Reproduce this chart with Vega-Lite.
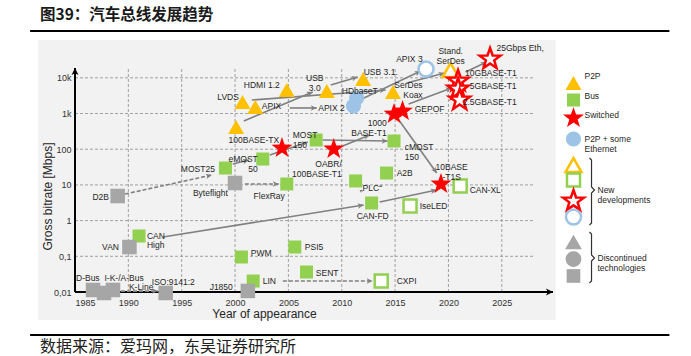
{
  "$schema": "https://vega.github.io/schema/vega-lite/v6.json",
  "width": 478,
  "height": 224,
  "autosize": {"type": "none"},
  "padding": {"left": 75, "top": 68, "right": 138, "bottom": 64},
  "background": "white",
  "config": {
    "view": {"stroke": null},
    "text": {"font": "Liberation Sans Narrow, Liberation Sans, sans-serif", "fontSize": 8.5, "color": "#262626"}
  },
  "datasets": {
    "panel": [{"year": 1981.54, "year2": 2030.04, "mbps": 114600, "mbps2": 0.00164}],
    "gridYears": [{"year": 1990}, {"year": 1995}, {"year": 2000}, {"year": 2005}, {"year": 2010}, {"year": 2015}, {"year": 2020}, {"year": 2025}],
    "gridLevels": [{"mbps": 0.1}, {"mbps": 1}, {"mbps": 10}, {"mbps": 100}, {"mbps": 1000}, {"mbps": 10000}],
    "axisLines": [
      {"year": 1985, "mbps": 0.01, "year2": 2029.8, "mbps2": 0.01},
      {"year": 1985, "mbps": 0.01, "year2": 1985, "mbps2": 18840}
    ],
    "links": [
      {"year": 2000.82, "mbps": 617, "year2": 2007.28, "mbps2": 4000},
      {"year": 2001.57, "mbps": 2390, "year2": 2014.12, "mbps2": 4550},
      {"year": 2005.13, "mbps": 1430, "year2": 2007.66, "mbps2": 1430},
      {"year": 2008.97, "mbps": 6280, "year2": 2011.5, "mbps2": 10520},
      {"year": 2011.69, "mbps": 2390, "year2": 2017.4, "mbps2": 15490},
      {"year": 2016.09, "mbps": 7140, "year2": 2019.64, "mbps2": 13610},
      {"year": 2016.27, "mbps": 1845, "year2": 2020.3, "mbps2": 5180},
      {"year": 2015.15, "mbps": 798, "year2": 2018.9, "mbps2": 21.5},
      {"year": 2021.61, "mbps": 14520, "year2": 2023.58, "mbps2": 27700},
      {"year": 2003.26, "mbps": 68.9, "year2": 2006.82, "mbps2": 159},
      {"year": 2008.22, "mbps": 181, "year2": 2014.31, "mbps2": 170},
      {"year": 2010.09, "mbps": 123, "year2": 2012.62, "mbps2": 250},
      {"year": 1993.24, "mbps": 0.348, "year2": 2012.06, "mbps2": 2.74},
      {"year": 2013.56, "mbps": 3.32, "year2": 2018.9, "mbps2": 7.19},
      {"year": 1999.79, "mbps": 38.5, "year2": 2001.29, "mbps2": 49.8}
    ],
    "dashedLinks": [
      {"year": 1989.68, "mbps": 5.56, "year2": 1997.83, "mbps2": 18.9},
      {"year": 2000.92, "mbps": 10.6, "year2": 2004.1, "mbps2": 10.6},
      {"year": 2004.48, "mbps": 0.0203, "year2": 2012.9, "mbps2": 0.0203},
      {"year": 1989.31, "mbps": 0.0106, "year2": 1992.77, "mbps2": 0.0106}
    ],
    "tech": [
      {"name": "LVDS", "year": 2000.7, "mbps": 2100, "topology": "P2P", "status": "current"},
      {"name": "APIX", "year": 2001.9, "mbps": 1520, "topology": "P2P", "status": "current"},
      {"name": "100BASE-TX (P2P)", "year": 2000.1, "mbps": 419, "topology": "P2P", "status": "current"},
      {"name": "HDMI 1.2", "year": 2004.85, "mbps": 4550, "topology": "P2P", "status": "current"},
      {"name": "USB 3.0", "year": 2008.6, "mbps": 4270, "topology": "P2P", "status": "current"},
      {"name": "USB 3.1", "year": 2012.0, "mbps": 9250, "topology": "P2P", "status": "current"},
      {"name": "SerDes Koax", "year": 2014.8, "mbps": 4000, "topology": "P2P", "status": "current"},
      {"name": "Stand. SerDes", "year": 2020.2, "mbps": 16500, "topology": "P2P", "status": "new"},
      {"name": "HDbaseT", "year": 2011.4, "mbps": 2720, "topology": "P2P + some Ethernet", "status": "current"},
      {"name": "APIX 2", "year": 2011.1, "mbps": 1620, "topology": "P2P + some Ethernet", "status": "current"},
      {"name": "APIX 3", "year": 2017.9, "mbps": 17600, "topology": "P2P + some Ethernet", "status": "new"},
      {"name": "100BASE-TX", "year": 2004.4, "mbps": 115, "topology": "Switched", "status": "current"},
      {"name": "OABR/100BASE-T1", "year": 2009.25, "mbps": 108, "topology": "Switched", "status": "current"},
      {"name": "1000BASE-T1", "year": 2014.9, "mbps": 1030, "topology": "Switched", "status": "current"},
      {"name": "GEPOF", "year": 2015.7, "mbps": 1250, "topology": "Switched", "status": "current"},
      {"name": "10BASE-T1S", "year": 2019.3, "mbps": 11.3, "topology": "Switched", "status": "current"},
      {"name": "10GBASE-T1", "year": 2020.9, "mbps": 8670, "topology": "Switched", "status": "new"},
      {"name": "5GBASE-T1", "year": 2020.9, "mbps": 5180, "topology": "Switched", "status": "new"},
      {"name": "2.5GBASE-T1", "year": 2021.05, "mbps": 2550, "topology": "Switched", "status": "new"},
      {"name": "25Gbps Eth", "year": 2023.9, "mbps": 35900, "topology": "Switched", "status": "new"},
      {"name": "MOST25", "year": 1999.1, "mbps": 29.7, "topology": "Bus", "status": "current"},
      {"name": "eMOST 50", "year": 2002.6, "mbps": 53.1, "topology": "Bus", "status": "current"},
      {"name": "MOST 150", "year": 2007.6, "mbps": 181, "topology": "Bus", "status": "current"},
      {"name": "cMOST 150", "year": 2014.9, "mbps": 170, "topology": "Bus", "status": "current"},
      {"name": "FlexRay", "year": 2004.85, "mbps": 10.6, "topology": "Bus", "status": "current"},
      {"name": "PLC", "year": 2011.3, "mbps": 12.9, "topology": "Bus", "status": "current"},
      {"name": "A2B", "year": 2014.2, "mbps": 21.5, "topology": "Bus", "status": "current"},
      {"name": "CAN-FD", "year": 2012.8, "mbps": 3.11, "topology": "Bus", "status": "current"},
      {"name": "CAN High", "year": 1991.0, "mbps": 0.371, "topology": "Bus", "status": "current"},
      {"name": "PWM", "year": 2000.6, "mbps": 0.0955, "topology": "Bus", "status": "current"},
      {"name": "PSI5", "year": 2005.6, "mbps": 0.182, "topology": "Bus", "status": "current"},
      {"name": "SENT", "year": 2006.7, "mbps": 0.0363, "topology": "Bus", "status": "current"},
      {"name": "LIN", "year": 2001.7, "mbps": 0.0203, "topology": "Bus", "status": "current"},
      {"name": "IseLED", "year": 2016.4, "mbps": 2.56, "topology": "Bus", "status": "new"},
      {"name": "CAN-XL", "year": 2021.1, "mbps": 9.31, "topology": "Bus", "status": "new"},
      {"name": "CXPI", "year": 2013.7, "mbps": 0.0203, "topology": "Bus", "status": "new"},
      {"name": "Byteflight", "year": 2000.0, "mbps": 11.3, "topology": "Bus", "status": "discontinued"},
      {"name": "D2B", "year": 1989.0, "mbps": 4.89, "topology": "Bus", "status": "discontinued"},
      {"name": "VAN", "year": 1990.1, "mbps": 0.182, "topology": "Bus", "status": "discontinued"},
      {"name": "D-Bus", "year": 1986.69, "mbps": 0.0114, "topology": "Bus", "status": "discontinued"},
      {"name": "K-Line", "year": 1987.72, "mbps": 0.00938, "topology": "Bus", "status": "discontinued"},
      {"name": "I-K-/A-Bus", "year": 1988.56, "mbps": 0.0114, "topology": "Bus", "status": "discontinued"},
      {"name": "ISO 9141:2", "year": 1993.5, "mbps": 0.00938, "topology": "Bus", "status": "discontinued"},
      {"name": "J1850", "year": 2001.2, "mbps": 0.0107, "topology": "Bus", "status": "discontinued"}
    ],
    "legendItems": [
      {"year": 2031.72, "mbps": 7140, "topology": "P2P", "status": "current"},
      {"year": 2031.72, "mbps": 2390, "topology": "Bus", "status": "current"},
      {"year": 2031.72, "mbps": 798, "topology": "Switched", "status": "current"},
      {"year": 2031.72, "mbps": 193, "topology": "P2P + some Ethernet", "status": "current"},
      {"year": 2031.72, "mbps": 36.1, "topology": "P2P", "status": "new"},
      {"year": 2031.72, "mbps": 13.7, "topology": "Bus", "status": "new"},
      {"year": 2031.72, "mbps": 3.78, "topology": "Switched", "status": "new"},
      {"year": 2031.72, "mbps": 1.26, "topology": "P2P + some Ethernet", "status": "new"},
      {"year": 2031.72, "mbps": 0.252, "topology": "P2P", "status": "discontinued"},
      {"year": 2031.72, "mbps": 0.0839, "topology": "P2P + some Ethernet", "status": "discontinued"},
      {"year": 2031.72, "mbps": 0.0281, "topology": "Bus", "status": "discontinued"}
    ],
    "labels": [
      {"text": "LVDS", "year": 2000.36, "mbps": 2900, "anchor": "end"},
      {"text": "HDMI 1.2", "year": 2004.19, "mbps": 6280, "anchor": "end"},
      {"text": "APIX", "year": 2002.51, "mbps": 1620, "anchor": "start"},
      {"text": "100BASE-TX", "year": 2001.76, "mbps": 181, "anchor": "middle"},
      {"text": ["USB", "3.0"], "year": 2007.47, "mbps": 9860, "anchor": "middle"},
      {"text": "USB 3.1.", "year": 2012.06, "mbps": 14520, "anchor": "start"},
      {"text": "HDbaseT", "year": 2011.69, "mbps": 4270, "anchor": "middle"},
      {"text": "APIX 2", "year": 2010.28, "mbps": 1430, "anchor": "end"},
      {"text": "APIX 3", "year": 2017.58, "mbps": 33650, "anchor": "end"},
      {"text": ["SerDes", "Koax"], "year": 2017.58, "mbps": 6280, "anchor": "end"},
      {"text": ["Stand.", "SerDes"], "year": 2020.21, "mbps": 56400, "anchor": "middle"},
      {"text": "GEPOF", "year": 2016.84, "mbps": 1340, "anchor": "start"},
      {"text": ["1000", "BASE-T1"], "year": 2014.21, "mbps": 542, "anchor": "end"},
      {"text": "10GBASE-T1", "year": 2026.39, "mbps": 13610, "anchor": "end"},
      {"text": "5GBASE-T1", "year": 2026.39, "mbps": 5890, "anchor": "end"},
      {"text": "2.5GBASE-T1", "year": 2026.39, "mbps": 2100, "anchor": "end"},
      {"text": "25Gbps Eth,", "year": 2024.51, "mbps": 68400, "anchor": "start"},
      {"text": ["MOST", "150"], "year": 2005.41, "mbps": 250, "anchor": "start"},
      {"text": ["eMOST", "50"], "year": 2002.13, "mbps": 53.1, "anchor": "end"},
      {"text": ["OABR/", "100BASE-T1"], "year": 2010.0, "mbps": 38.5, "anchor": "end"},
      {"text": ["cMOST", "150"], "year": 2015.9, "mbps": 115, "anchor": "start"},
      {"text": "MOST25", "year": 1998.11, "mbps": 27.9, "anchor": "end"},
      {"text": "Byteflight", "year": 1999.33, "mbps": 5.93, "anchor": "end"},
      {"text": "D2B", "year": 1988.18, "mbps": 4.58, "anchor": "end"},
      {"text": "FlexRay", "year": 2004.66, "mbps": 4.89, "anchor": "end"},
      {"text": "„PLC“", "year": 2011.69, "mbps": 8.18, "anchor": "start"},
      {"text": "A2B", "year": 2015.15, "mbps": 21.5, "anchor": "start"},
      {"text": "CAN-FD", "year": 2012.9, "mbps": 1.35, "anchor": "middle"},
      {"text": "IseLED", "year": 2017.3, "mbps": 2.56, "anchor": "start"},
      {"text": ["10BASE", "-T1S"], "year": 2020.3, "mbps": 31.7, "anchor": "middle"},
      {"text": "CAN-XL", "year": 2021.99, "mbps": 7.19, "anchor": "start"},
      {"text": ["CAN", "High"], "year": 1991.74, "mbps": 0.371, "anchor": "start"},
      {"text": "VAN", "year": 1989.12, "mbps": 0.182, "anchor": "end"},
      {"text": "PWM", "year": 2001.48, "mbps": 0.124, "anchor": "start"},
      {"text": "PSI5", "year": 2006.54, "mbps": 0.182, "anchor": "start"},
      {"text": "SENT", "year": 2007.57, "mbps": 0.034, "anchor": "start"},
      {"text": "LIN", "year": 2002.6, "mbps": 0.0203, "anchor": "start"},
      {"text": "CXPI", "year": 2015.15, "mbps": 0.0203, "anchor": "start"},
      {"text": "J1850", "year": 1999.79, "mbps": 0.0138, "anchor": "end"},
      {"text": "D-Bus", "year": 1986.2, "mbps": 0.0247, "anchor": "middle"},
      {"text": "I-K-/A-Bus", "year": 1989.6, "mbps": 0.0247, "anchor": "middle"},
      {"text": "K-Line", "year": 1990.05, "mbps": 0.0138, "anchor": "start"},
      {"text": "ISO:9141:2", "year": 1992.2, "mbps": 0.0191, "anchor": "start"},
      {"text": "P2P", "year": 2032.75, "mbps": 11220, "anchor": "start"},
      {"text": "Bus", "year": 2032.75, "mbps": 3090, "anchor": "start"},
      {"text": "Switched", "year": 2032.75, "mbps": 908, "anchor": "start"},
      {"text": ["P2P + some", "Ethernet"], "year": 2032.75, "mbps": 193, "anchor": "start"},
      {"text": ["New", "developments"], "year": 2033.97, "mbps": 7.19, "anchor": "start"},
      {"text": ["Discontinued", "technologies"], "year": 2033.97, "mbps": 0.0895, "anchor": "start"}
    ],
    "brackets": [
      {"group": "new", "i": 0, "year": 2033.22, "mbps": 56.8},
      {"group": "new", "i": 1, "year": 2033.41, "mbps": 49.8},
      {"group": "new", "i": 2, "year": 2033.41, "mbps": 8.73},
      {"group": "new", "i": 3, "year": 2033.69, "mbps": 7.19},
      {"group": "new", "i": 4, "year": 2033.41, "mbps": 5.93},
      {"group": "new", "i": 5, "year": 2033.41, "mbps": 0.857},
      {"group": "new", "i": 6, "year": 2033.22, "mbps": 0.753},
      {"group": "disc", "i": 0, "year": 2033.22, "mbps": 0.48},
      {"group": "disc", "i": 1, "year": 2033.41, "mbps": 0.422},
      {"group": "disc", "i": 2, "year": 2033.41, "mbps": 0.1086},
      {"group": "disc", "i": 3, "year": 2033.69, "mbps": 0.0895},
      {"group": "disc", "i": 4, "year": 2033.41, "mbps": 0.0738},
      {"group": "disc", "i": 5, "year": 2033.41, "mbps": 0.0203},
      {"group": "disc", "i": 6, "year": 2033.22, "mbps": 0.0179}
    ],
    "frameLines": [
      {"year": 1980.79, "year2": 2040.71, "mbps": 204600},
      {"year": 1980.79, "year2": 2040.71, "mbps": 0.000625}
    ],
    "heading": [{"year": 1981.72, "mbps": 574000, "text": "图39：汽车总线发展趋势"}],
    "source": [{"year": 1981.72, "mbps": 0.000288, "text": "数据来源：爱玛网，东吴证券研究所"}]
  },
  "layer": [
    {
      "data": {"name": "panel"},
      "mark": {"type": "rect", "fill": "#f2f2f2"},
      "encoding": {
        "x": {
          "field": "year", "type": "quantitative",
          "scale": {"type": "linear", "domain": [1985, 2029.8], "nice": false, "zero": false},
          "axis": {
            "values": [1985, 1990, 1995, 2000, 2005, 2010, 2015, 2020, 2025],
            "format": "d", "grid": false, "domain": false, "ticks": false,
            "labelFlush": true, "labelPadding": 6, "labelFontSize": 9, "labelColor": "#333333",
            "labelFont": "Liberation Sans Narrow, Liberation Sans, sans-serif",
            "title": "Year of appearance", "titleFontSize": 12, "titleFontWeight": "normal",
            "titleColor": "#262626", "titleFont": "Liberation Sans Narrow, Liberation Sans, sans-serif",
            "titleX": 189, "titleY": 21, "titleBaseline": "middle", "titleAlign": "center", "zindex": 1
          }
        },
        "x2": {"field": "year2"},
        "y": {
          "field": "mbps", "type": "quantitative",
          "scale": {"type": "log", "domain": [0.01, 18840], "nice": false},
          "axis": {
            "values": [0.01, 0.1, 1, 10, 100, 1000, 10000],
            "labelExpr": "datum.value >= 10000 ? '10k' : datum.value >= 1000 ? '1k' : datum.value >= 100 ? '100' : datum.value >= 10 ? '10' : datum.value >= 1 ? '1' : datum.value >= 0.1 ? '0,1' : '0,01'",
            "grid": false, "domain": false, "ticks": false,
            "labelPadding": 4, "labelFontSize": 9, "labelColor": "#333333",
            "labelFont": "Liberation Sans Narrow, Liberation Sans, sans-serif",
            "title": "Gross bitrate [Mbps]", "titleFontSize": 12, "titleFontWeight": "normal",
            "titleColor": "#262626", "titleFont": "Liberation Sans Narrow, Liberation Sans, sans-serif",
            "titleX": -28, "titleY": 128, "titleBaseline": "middle", "titleAlign": "center", "zindex": 1
          }
        },
        "y2": {"field": "mbps2"}
      }
    },
    {
      "data": {"name": "gridYears"},
      "mark": {"type": "rule", "stroke": "#8c8c8c", "strokeWidth": 0.8, "strokeDash": [3, 2]},
      "encoding": {
        "x": {"field": "year", "type": "quantitative"},
        "y": {"datum": 0.01, "type": "quantitative"},
        "y2": {"datum": 18840}
      }
    },
    {
      "data": {"name": "gridLevels"},
      "mark": {"type": "rule", "stroke": "#8c8c8c", "strokeWidth": 0.8, "strokeDash": [3, 2]},
      "encoding": {
        "y": {"field": "mbps", "type": "quantitative"},
        "x": {"datum": 1985, "type": "quantitative"},
        "x2": {"datum": 2028}
      }
    },
    {
      "data": {"name": "axisLines"},
      "mark": {"type": "rule", "stroke": "#000000", "strokeWidth": 2},
      "encoding": {
        "x": {"field": "year", "type": "quantitative"},
        "y": {"field": "mbps", "type": "quantitative"},
        "x2": {"field": "year2"},
        "y2": {"field": "mbps2"}
      }
    },
    {
      "data": {"name": "axisLines"},
      "mark": {"type": "point", "shape": "M0,0L-2,-1L-1.5,0L-2,1Z", "filled": true, "color": "#000000", "opacity": 1, "size": 49, "strokeWidth": 0,
        "angle": {"expr": "atan2(scale('y', datum.mbps2) - scale('y', datum.mbps), scale('x', datum.year2) - scale('x', datum.year)) * 180 / PI"}},
      "encoding": {
        "x": {"field": "year2", "type": "quantitative"},
        "y": {"field": "mbps2", "type": "quantitative"}
      }
    },
    {
      "data": {"name": "links"},
      "mark": {"type": "rule", "stroke": "#808080", "strokeWidth": 1.6},
      "encoding": {
        "x": {"field": "year", "type": "quantitative"},
        "y": {"field": "mbps", "type": "quantitative"},
        "x2": {"field": "year2"},
        "y2": {"field": "mbps2"}
      }
    },
    {
      "data": {"name": "dashedLinks"},
      "mark": {"type": "rule", "stroke": "#808080", "strokeWidth": 1.6, "strokeDash": [4, 2]},
      "encoding": {
        "x": {"field": "year", "type": "quantitative"},
        "y": {"field": "mbps", "type": "quantitative"},
        "x2": {"field": "year2"},
        "y2": {"field": "mbps2"}
      }
    },
    {
      "data": {"name": "links"},
      "mark": {"type": "point", "shape": "M0,0L-2.2,-1L-1.6,0L-2.2,1Z", "filled": true, "color": "#808080", "opacity": 1, "size": 30, "strokeWidth": 0,
        "angle": {"expr": "atan2(scale('y', datum.mbps2) - scale('y', datum.mbps), scale('x', datum.year2) - scale('x', datum.year)) * 180 / PI"}},
      "encoding": {
        "x": {"field": "year2", "type": "quantitative"},
        "y": {"field": "mbps2", "type": "quantitative"}
      }
    },
    {
      "data": {"name": "dashedLinks"},
      "mark": {"type": "point", "shape": "M0,0L-2.2,-1L-1.6,0L-2.2,1Z", "filled": true, "color": "#808080", "opacity": 1, "size": 30, "strokeWidth": 0,
        "angle": {"expr": "atan2(scale('y', datum.mbps2) - scale('y', datum.mbps), scale('x', datum.year2) - scale('x', datum.year)) * 180 / PI"}},
      "encoding": {
        "x": {"field": "year2", "type": "quantitative"},
        "y": {"field": "mbps2", "type": "quantitative"}
      }
    },
    {
      "data": {"name": "tech"},
      "transform": [{"filter": "datum.status === 'current'"}],
      "mark": {"type": "point", "filled": true, "opacity": 1, "strokeWidth": 0, "size": 100},
      "encoding": {
        "x": {"field": "year", "type": "quantitative"},
        "y": {"field": "mbps", "type": "quantitative"},
        "shape": {"field": "topology", "type": "nominal", "legend": null,
          "scale": {"domain": ["P2P", "Bus", "Switched", "P2P + some Ethernet"], "range": [
            "M0,-1.4L1.6,1.4L-1.6,1.4Z",
            "M-1.3,-1.3L1.3,-1.3L1.3,1.3L-1.3,1.3Z",
            "M0,-2L0.517,-0.513L2.092,-0.48L0.836,0.473L1.294,1.98L0,1.08L-1.294,1.98L-0.836,0.473L-2.092,-0.48L-0.517,-0.513Z",
            "M-1.5,0A1.5,1.5,0,1,1,1.5,0A1.5,1.5,0,1,1,-1.5,0Z"]}},
        "color": {"field": "topology", "type": "nominal", "legend": null,
          "scale": {"domain": ["P2P", "Bus", "Switched", "P2P + some Ethernet"], "range": ["#FFC000", "#92D050", "#FF0000", "#9DC3E6"]}}
      }
    },
    {
      "data": {"name": "tech"},
      "transform": [{"filter": "datum.status === 'new'"}],
      "mark": {"type": "point", "filled": true, "fill": "#ffffff", "opacity": 1, "strokeWidth": 2.5, "size": 100},
      "encoding": {
        "x": {"field": "year", "type": "quantitative"},
        "y": {"field": "mbps", "type": "quantitative"},
        "shape": {"field": "topology", "type": "nominal", "legend": null},
        "stroke": {"field": "topology", "type": "nominal", "legend": null,
          "scale": {"domain": ["P2P", "Bus", "Switched", "P2P + some Ethernet"], "range": ["#FFC000", "#92D050", "#FF0000", "#9DC3E6"]}}
      }
    },
    {
      "data": {"name": "tech"},
      "transform": [{"filter": "datum.status === 'discontinued'"}],
      "mark": {"type": "point", "filled": true, "color": "#A6A6A6", "opacity": 1, "strokeWidth": 0, "size": 125},
      "encoding": {
        "x": {"field": "year", "type": "quantitative"},
        "y": {"field": "mbps", "type": "quantitative"},
        "shape": {"field": "topology", "type": "nominal", "legend": null}
      }
    },
    {
      "data": {"name": "legendItems"},
      "transform": [{"filter": "datum.status === 'current'"}],
      "mark": {"type": "point", "filled": true, "opacity": 1, "strokeWidth": 0, "size": 100},
      "encoding": {
        "x": {"field": "year", "type": "quantitative"},
        "y": {"field": "mbps", "type": "quantitative"},
        "shape": {"field": "topology", "type": "nominal", "legend": null},
        "color": {"field": "topology", "type": "nominal", "legend": null}
      }
    },
    {
      "data": {"name": "legendItems"},
      "transform": [{"filter": "datum.status === 'new'"}],
      "mark": {"type": "point", "filled": true, "fill": "#ffffff", "opacity": 1, "strokeWidth": 2.5, "size": 100},
      "encoding": {
        "x": {"field": "year", "type": "quantitative"},
        "y": {"field": "mbps", "type": "quantitative"},
        "shape": {"field": "topology", "type": "nominal", "legend": null},
        "stroke": {"field": "topology", "type": "nominal", "legend": null}
      }
    },
    {
      "data": {"name": "legendItems"},
      "transform": [{"filter": "datum.status === 'discontinued'"}],
      "mark": {"type": "point", "filled": true, "color": "#A6A6A6", "opacity": 1, "strokeWidth": 0, "size": 110},
      "encoding": {
        "x": {"field": "year", "type": "quantitative"},
        "y": {"field": "mbps", "type": "quantitative"},
        "shape": {"field": "topology", "type": "nominal", "legend": null}
      }
    },
    {
      "data": {"name": "brackets"},
      "mark": {"type": "line", "stroke": "#333333", "strokeWidth": 1.2},
      "encoding": {
        "x": {"field": "year", "type": "quantitative"},
        "y": {"field": "mbps", "type": "quantitative"},
        "detail": {"field": "group", "type": "nominal"},
        "order": {"field": "i", "type": "quantitative"}
      }
    },
    {
      "data": {"name": "labels"},
      "transform": [{"filter": "datum.anchor === 'start'"}],
      "mark": {"type": "text", "align": "left", "baseline": "middle", "lineHeight": 9.5},
      "encoding": {
        "x": {"field": "year", "type": "quantitative"},
        "y": {"field": "mbps", "type": "quantitative"},
        "text": {"field": "text", "type": "nominal"}
      }
    },
    {
      "data": {"name": "labels"},
      "transform": [{"filter": "datum.anchor === 'end'"}],
      "mark": {"type": "text", "align": "right", "baseline": "middle", "lineHeight": 9.5},
      "encoding": {
        "x": {"field": "year", "type": "quantitative"},
        "y": {"field": "mbps", "type": "quantitative"},
        "text": {"field": "text", "type": "nominal"}
      }
    },
    {
      "data": {"name": "labels"},
      "transform": [{"filter": "datum.anchor === 'middle'"}],
      "mark": {"type": "text", "align": "center", "baseline": "middle", "lineHeight": 9.5},
      "encoding": {
        "x": {"field": "year", "type": "quantitative"},
        "y": {"field": "mbps", "type": "quantitative"},
        "text": {"field": "text", "type": "nominal"}
      }
    },
    {
      "data": {"name": "frameLines"},
      "mark": {"type": "rule", "stroke": "#000000", "strokeWidth": 1.8},
      "encoding": {
        "x": {"field": "year", "type": "quantitative"},
        "x2": {"field": "year2"},
        "y": {"field": "mbps", "type": "quantitative"}
      }
    },
    {
      "data": {"name": "heading"},
      "mark": {"type": "text", "align": "left", "baseline": "middle", "font": "Noto Sans CJK SC", "fontSize": 15.5, "fontWeight": "bold", "color": "#1a1a1a"},
      "encoding": {
        "x": {"field": "year", "type": "quantitative"},
        "y": {"field": "mbps", "type": "quantitative"},
        "text": {"field": "text", "type": "nominal"}
      }
    },
    {
      "data": {"name": "source"},
      "mark": {"type": "text", "align": "left", "baseline": "middle", "font": "Noto Sans CJK SC", "fontSize": 16, "fontWeight": "normal", "color": "#222222"},
      "encoding": {
        "x": {"field": "year", "type": "quantitative"},
        "y": {"field": "mbps", "type": "quantitative"},
        "text": {"field": "text", "type": "nominal"}
      }
    }
  ]
}
